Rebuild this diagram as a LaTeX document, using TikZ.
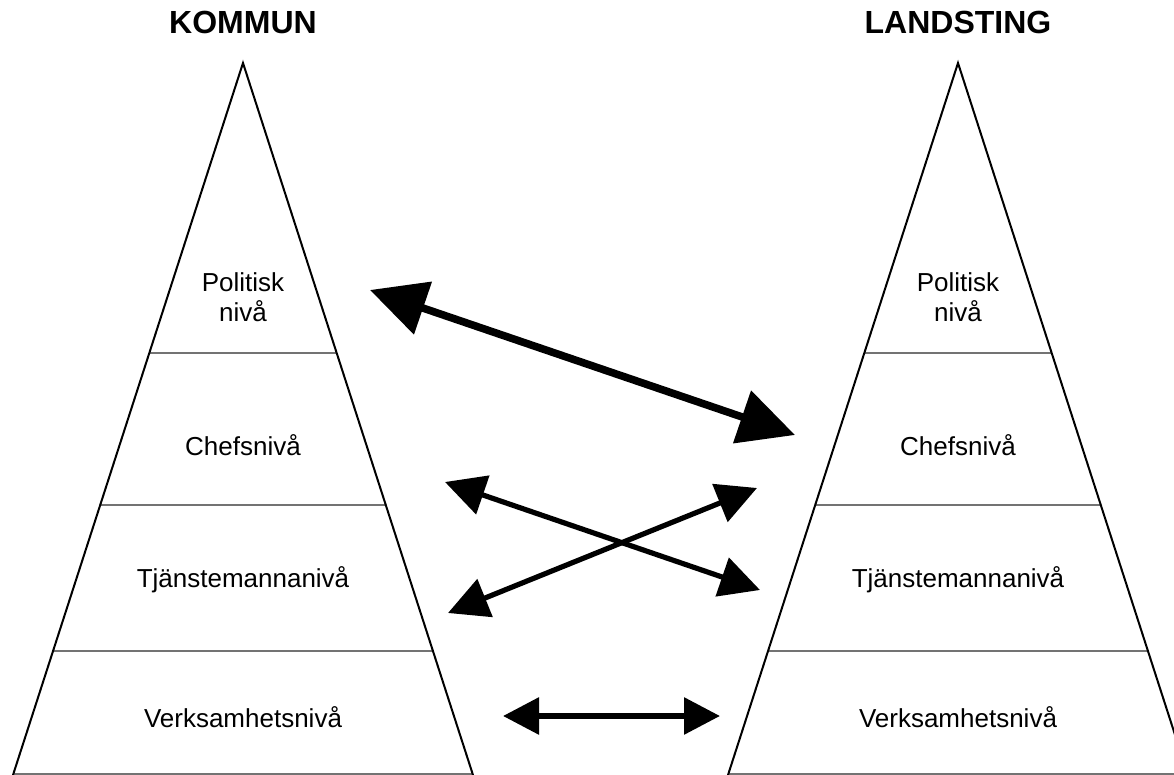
\documentclass[tikz,border=0pt]{standalone}
\usepackage{fontspec}
\setmainfont{Liberation Sans}
\usetikzlibrary{arrows.meta}
\begin{document}
\begin{tikzpicture}[x=0.5pt, y=-0.5pt, line join=miter,
    every node/.style={font=\fontsize{13}{15}\selectfont, align=center, inner sep=0pt},
    title/.style={font=\fontsize{16}{19}\selectfont\bfseries},
    outline/.style={line width=1pt},
    divider/.style={line width=0.7pt, draw=black!55},
    bigarrow/.style={line width=3.8pt, {Triangle[length=28pt,width=27pt]}-{Triangle[length=28pt,width=27pt]}},
    midarrow/.style={line width=2.6pt, {Triangle[length=20pt,width=20pt]}-{Triangle[length=20pt,width=20pt]}},
    flatarrow/.style={line width=3pt, {Triangle[length=18pt,width=18pt]}-{Triangle[length=18pt,width=18pt]}}]
    \useasboundingbox (0,0) rectangle (1174,775);
    % pyramids
    \foreach \cx/\name/\head in {243/kommun/KOMMUN, 958/landsting/LANDSTING} {
        \node[title] (\name) at (\cx, 22) {\head};
        \draw[divider] (\cx-93.9, 353) -- (\cx+93.9, 353);
        \draw[divider] (\cx-143.2, 505) -- (\cx+143.2, 505);
        \draw[divider] (\cx-190.5, 651) -- (\cx+190.5, 651);
        \draw[divider] (\cx-229, 774) -- (\cx+229, 774);
        \draw[outline] (\cx-230, 775) -- (\cx, 63) -- (\cx+230, 775);
        \node (\name-pol) at (\cx, 297) {Politisk\\niv\aa};
        \node (\name-chef) at (\cx, 445) {Chefsniv\aa};
        \node (\name-tj) at (\cx, 580) {Tj\"anstemannaniv\aa};
        \node (\name-verk) at (\cx, 717) {Verksamhetsniv\aa};
    }
    % arrow ends
    \coordinate (pol-l) at (370, 290);
    \coordinate (chef-r) at (795, 435);
    \coordinate (chef-l) at (445, 482);
    \coordinate (tj-r) at (760, 590);
    \coordinate (tj-l) at (448, 613);
    \coordinate (chef-r2) at (757, 488);
    \coordinate (verk-l) at (503, 716);
    \coordinate (verk-r) at (720, 716);
    \draw[bigarrow] (pol-l) -- (chef-r);
    \draw[midarrow] (chef-l) -- (tj-r);
    \draw[midarrow] (tj-l) -- (chef-r2);
    \draw[flatarrow] (verk-l) -- (verk-r);
\end{tikzpicture}
\end{document}
